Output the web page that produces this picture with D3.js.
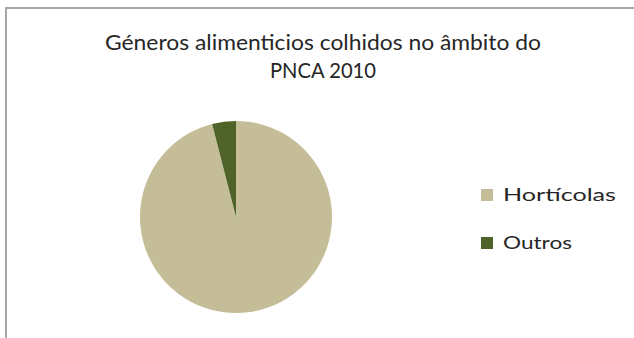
<!DOCTYPE html>
<html>
<head>
<meta charset="utf-8">
<script src="https://cdn.jsdelivr.net/npm/d3@7"></script>
<style>
  body { margin: 0; background: #fff; }
  svg { display: block; }
</style>
</head>
<body>
<div id="chart"></div>
<script>
var categories = ["Hortícolas", "Outros"];
var values = [96, 4];
var colors = ["#c4bd97", "#4f6228"];
var titleLines = ["Géneros alimenticios colhidos  no âmbito do", "PNCA 2010"];

var width = 634, height = 338;

var svg = d3.select("#chart")
            .append("svg")
            .attr("width", width)
            .attr("height", height);

// chart frame, cut off on the right and bottom like the screenshot
svg.append("rect")
    .attr("x", 6)
    .attr("y", 8)
    .attr("width", width + 20)
    .attr("height", height + 20)
    .attr("fill", "#fff")
    .attr("stroke", "#a6a6a6")
    .attr("stroke-width", 2);

// title
svg.append("g")
    .selectAll("text")
    .data(titleLines)
    .join("text")
    .attr("x", 323)
    .attr("y", (d, i) => 50 + i * 28)
    .attr("text-anchor", "middle")
    .attr("textLength", (d, i) => i == 0 ? 436 : 106)
    .attr("lengthAdjust", "spacingAndGlyphs")
    .style("font-family", "Lato, 'Open Sans', sans-serif")
    .style("font-size", "21px")
    .attr("fill", "#262626")
    .text(d => d);

// pie
var data = categories.map((c, i) => ({name: c, value: values[i]}));
var pie = d3.pie().sort(null).value(d => d.value);
var arc = d3.arc().innerRadius(0).outerRadius(96);

var color = d3.scaleOrdinal()
            .domain(categories)
            .range(colors);

svg.append("g")
    .attr("transform", "translate(236,217)")
    .selectAll("path")
    .data(pie(data))
    .join("path")
    .attr("d", arc)
    .attr("fill", d => color(d.data.name));

// legend
var y = d3.scalePoint()
        .domain(categories)
        .range([195, 243]);

var legend = svg.append("g")
                .selectAll("g")
                .data(categories)
                .join("g")
                .attr("transform", d => "translate(481," + y(d) + ")");

legend.append("rect")
    .attr("x", 0)
    .attr("y", -6)
    .attr("width", 12)
    .attr("height", 12)
    .attr("fill", d => color(d));

legend.append("text")
    .attr("x", 22)
    .attr("y", 6)
    .attr("textLength", d => d == "Hortícolas" ? 113 : 69)
    .attr("lengthAdjust", "spacingAndGlyphs")
    .style("font-family", "Lato, 'Open Sans', sans-serif")
    .style("font-size", "17px")
    .attr("fill", "#262626")
    .text(d => d);
</script>
</body>
</html>
